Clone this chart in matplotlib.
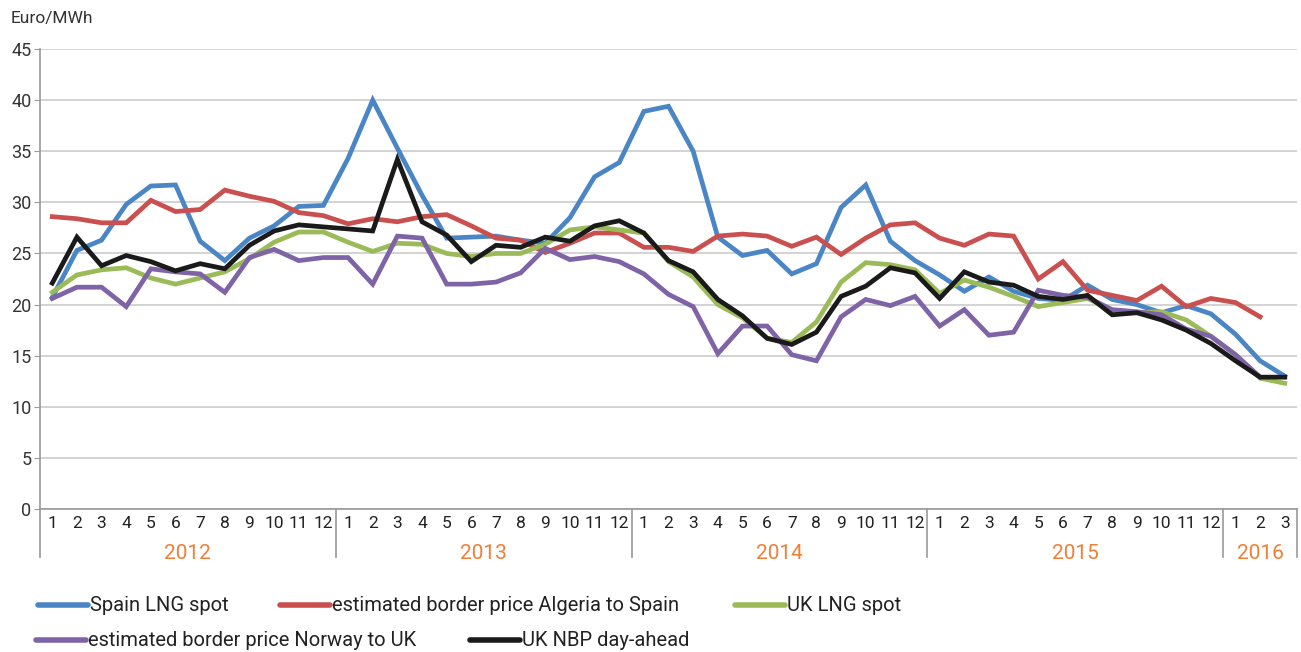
import numpy as np
import matplotlib.pyplot as plt
from matplotlib.lines import Line2D

plt.rcParams['font.family'] = ['Roboto', 'DejaVu Sans']

years = ['2012', '2013', '2014', '2015', '2016']
months_per_year = [12, 12, 12, 12, 3]
month_labels = [str(m) for n in months_per_year for m in range(1, n + 1)]

spain_lng = [20.7, 25.3, 26.3, 29.8, 31.6, 31.7, 26.2, 24.3, 26.5, 27.7, 29.6, 29.7,
             34.3, 40.0, 35.3, 30.7, 26.5, 26.6, 26.7, 26.3, 26.0, 28.5, 32.5, 33.9,
             38.9, 39.4, 35.0, 26.6, 24.8, 25.3, 23.0, 24.0, 29.5, 31.7, 26.2, 24.3,
             22.9, 21.3, 22.7, 21.3, 20.6, 20.4, 21.9, 20.5, 20.0, 19.2, 19.9, 19.1,
             17.1, 14.5, 13.0]
algeria_spain = [28.6, 28.4, 28.0, 28.0, 30.2, 29.1, 29.3, 31.2, 30.6, 30.1, 29.0, 28.7,
                 27.9, 28.4, 28.1, 28.6, 28.8, 27.7, 26.5, 26.3, 25.1, 26.0, 27.0, 27.0,
                 25.6, 25.6, 25.2, 26.7, 26.9, 26.7, 25.7, 26.6, 24.9, 26.5, 27.8, 28.0,
                 26.5, 25.8, 26.9, 26.7, 22.5, 24.2, 21.4, 20.9, 20.4, 21.8, 19.8, 20.6,
                 20.2, 18.8, np.nan]
uk_lng = [21.2, 22.9, 23.4, 23.6, 22.6, 22.0, 22.6, 23.2, 24.5, 26.1, 27.1, 27.1,
          26.1, 25.2, 26.0, 25.9, 25.0, 24.7, 25.0, 25.0, 25.9, 27.3, 27.6, 27.3,
          27.0, 24.2, 22.7, 20.0, 18.7, 16.7, 16.3, 18.3, 22.2, 24.1, 23.9, 23.4,
          21.1, 22.4, 21.7, 20.8, 19.8, 20.2, 20.6, 19.4, 19.2, 19.3, 18.5, 16.9,
          15.1, 12.8, 12.3]
norway_uk = [20.6, 21.7, 21.7, 19.8, 23.5, 23.2, 23.0, 21.2, 24.6, 25.4, 24.3, 24.6,
             24.6, 22.0, 26.7, 26.5, 22.0, 22.0, 22.2, 23.1, 25.5, 24.4, 24.7, 24.2,
             23.0, 21.0, 19.8, 15.2, 17.9, 17.9, 15.1, 14.5, 18.8, 20.5, 19.9, 20.8,
             17.9, 19.5, 17.0, 17.3, 21.4, 20.9, 20.7, 19.5, 19.3, 19.0, 17.6, 16.9,
             15.1, 12.9, np.nan]
uk_nbp = [22.1, 26.6, 23.8, 24.8, 24.2, 23.3, 24.0, 23.5, 25.8, 27.2, 27.8, 27.6,
          27.4, 27.2, 34.2, 28.1, 26.8, 24.2, 25.8, 25.6, 26.6, 26.2, 27.7, 28.2,
          27.0, 24.3, 23.2, 20.5, 18.9, 16.7, 16.1, 17.3, 20.8, 21.8, 23.6, 23.1,
          20.6, 23.2, 22.2, 21.9, 20.8, 20.5, 20.9, 19.0, 19.2, 18.5, 17.5, 16.2,
          14.5, 12.9, 12.9]

series = [
    ('Spain LNG spot', spain_lng, '#4a86c5'),
    ('estimated border price Algeria to Spain', algeria_spain, '#c9504e'),
    ('UK LNG spot', uk_lng, '#9bbb59'),
    ('estimated border price Norway to UK', norway_uk, '#7e64a6'),
    ('UK NBP day-ahead', uk_nbp, '#1a1a1a'),
]

fig = plt.figure(figsize=(13.01, 6.52), dpi=100)
ax = fig.add_axes([0.0307, 0.2193, 0.9663, 0.7055])
x = np.arange(len(month_labels))

for name, vals, col in series:
    ax.plot(x, vals, color=col, lw=3.4, solid_joinstyle='miter', zorder=3)

ax.set_xlim(-0.5, len(x) - 0.5)
ax.set_ylim(0, 45)
ax.set_yticks(range(0, 46, 5))
ax.grid(axis='y', color='#cccccc', lw=1.2)
ax.set_axisbelow(True)
for s in ['top', 'right']:
    ax.spines[s].set_visible(False)
ax.spines['left'].set_color('#999999')
ax.spines['bottom'].set_color('#999999')
ax.spines['left'].set_linewidth(1.2)
ax.spines['bottom'].set_linewidth(1.2)
ax.tick_params(axis='y', length=4, color='#999999', labelsize=13, labelcolor='#333333', pad=2)
ax.set_xticks(x)
ax.set_xticklabels(month_labels)
ax.tick_params(axis='x', length=0, labelsize=12.5, labelcolor='#222222', pad=5)

# year separators and labels
bounds = np.concatenate([[0], np.cumsum(months_per_year)]) - 0.5
tr = ax.get_xaxis_transform()
for b in bounds:
    ax.plot([b, b], [0, -0.105], transform=tr, color='#999999', lw=1.2, clip_on=False)
for i, yr in enumerate(years):
    ax.text((bounds[i] + bounds[i + 1]) / 2, -0.097, yr, transform=tr, ha='center',
            va='center', color='#f07f35', fontsize=15)

fig.text(0.008, 0.972, 'Euro/MWh', fontsize=12.5, color='#333333', va='center')

# legend, laid out as in the original
rows = [(0.072, [(38, 0), (280, 1), (735, 2)]), (0.018, [(36, 3), (470, 4)])]
W = 1301.0
for yfig, items in rows:
    for px, k in items:
        name, _, col = series[k]
        fig.add_artist(Line2D([px / W, (px + 50) / W], [yfig, yfig], color=col, lw=4,
                              solid_capstyle='round', transform=fig.transFigure))
        fig.text((px + 52) / W, yfig, name, fontsize=14.5, color='#222222', va='center')

fig.savefig('out.png', dpi=100)
